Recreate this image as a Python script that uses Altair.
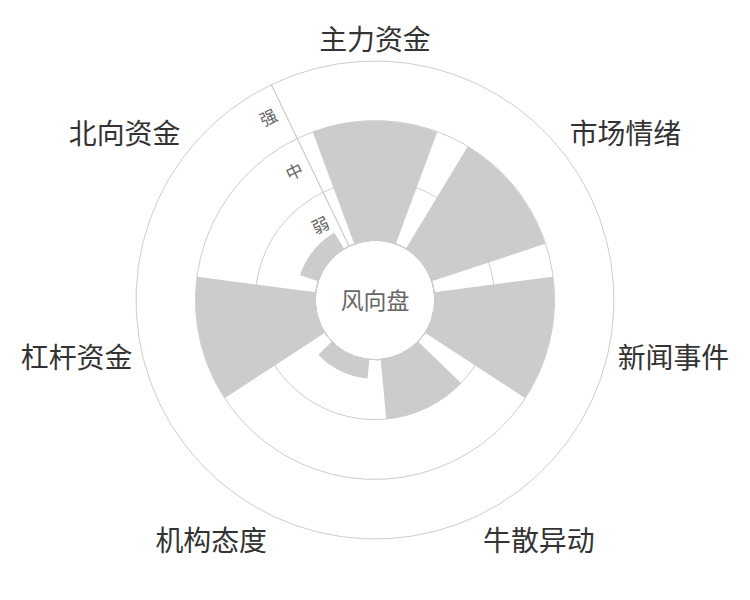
import math
import altair as alt
import pandas as pd

# ---- data ----
categories = ["主力资金", "市场情绪", "新闻事件", "牛散异动", "机构态度", "杠杆资金", "北向资金"]
values = [2.0, 2.0, 2.0, 1.0, 0.32, 2.0, 0.32]
level_labels = ["弱", "中", "强"]
level_pos = [0.5, 1.5, 2.5]
ring_levels = [1, 2, 3]
center_label = "风向盘"

FONT = "Noto Sans CJK SC"
n = len(categories)
step = 2 * math.pi / n

theta_scale = alt.Scale(type="linear", domain=[-0.5, n - 0.5],
                        range=[-step / 2, 2 * math.pi - step / 2])
radius_scale = alt.Scale(type="linear", domain=[-1, 3], range=[0, 240])

bars_df = pd.DataFrame({"cat": categories, "idx": list(range(n)), "v": values, "base": 0.0})
rings_df = pd.DataFrame({"level": ring_levels})
lvl_df = pd.DataFrame({"lab": level_labels, "r": level_pos})
lab_df = pd.DataFrame({"cat": categories, "idx": list(range(n)), "outer": 3.0})
center_df = pd.DataFrame({"lab": [center_label], "r": [-1.0], "t": [0.0], "t0": [-0.5], "t1": [n - 0.5], "edge": [0.0]})

# grid rings
rings = alt.Chart(rings_df).transform_calculate(
    t0="-0.5", t1=f"{n - 0.5}"
).mark_arc(filled=False, stroke="#cccccc", strokeWidth=1).encode(
    theta=alt.Theta("t0:Q", scale=theta_scale, stack=False),
    theta2=alt.Theta2("t1"),
    radius=alt.Radius("level:Q", scale=radius_scale),
)

# bars
bars = alt.Chart(bars_df).transform_calculate(
    t0="datum.idx - 0.395", t1="datum.idx + 0.395"
).mark_arc(color="#cccccc").encode(
    theta=alt.Theta("t0:Q", scale=theta_scale, stack=False),
    theta2=alt.Theta2("t1"),
    radius=alt.Radius("v:Q", scale=radius_scale),
    radius2=alt.Radius2("base"),
)

# radial axis line at the boundary before the first category
axis_line = alt.Chart(rings_df).transform_filter(alt.datum.level == 3).transform_calculate(
    t0="-0.5", base="0"
).mark_arc(filled=False, stroke="#cccccc", strokeWidth=1).encode(
    theta=alt.Theta("t0:Q", scale=theta_scale, stack=False),
    theta2=alt.Theta2("t0"),
    radius=alt.Radius("level:Q", scale=radius_scale),
    radius2=alt.Radius2("base:Q"),
)

# center disc
center_disc = alt.Chart(center_df).mark_arc(fill="white", stroke="#cccccc", strokeWidth=1).encode(
    theta=alt.Theta("t0:Q", scale=theta_scale, stack=False),
    theta2=alt.Theta2("t1"),
    radius=alt.Radius("edge:Q", scale=radius_scale),
)

center_text = alt.Chart(center_df).mark_text(
    font=FONT, fontSize=23, color="#666666", baseline="middle", align="center", dy=2
).encode(
    theta=alt.Theta("t:Q", scale=theta_scale, stack=False),
    radius=alt.Radius("r:Q", scale=radius_scale),
    text="lab:N",
)

lvl_text = alt.Chart(lvl_df).transform_calculate(t0="-0.5").mark_text(
    font=FONT, fontSize=17, color="#666666", baseline="middle", align="center",
    angle=360 - 180 / n, dx=-17
).encode(
    theta=alt.Theta("t0:Q", scale=theta_scale, stack=False),
    radius=alt.Radius("r:Q", scale=radius_scale),
    text="lab:N",
)

label_style = {
    "主力资金": ("center", "bottom"),
    "市场情绪": ("left", "bottom"),
    "新闻事件": ("left", "middle"),
    "牛散异动": ("left", "top"),
    "机构态度": ("right", "top"),
    "杠杆资金": ("right", "middle"),
    "北向资金": ("right", "bottom"),
}

label_layers = []
for c in categories:
    a, b = label_style[c]
    label_layers.append(
        alt.Chart(lab_df).transform_filter(alt.datum.cat == c).mark_text(
            font=FONT, fontSize=28, color="#333333", align=a, baseline=b,
            radiusOffset=10, dy=5
        ).encode(
            theta=alt.Theta("idx:Q", scale=theta_scale, stack=False),
            radius=alt.Radius("outer:Q", scale=radius_scale),
            text="cat:N",
        )
    )

chart = alt.layer(rings, bars, axis_line, center_disc, center_text, lvl_text, *label_layers).properties(
    width=737, height=584, padding=0
).configure_view(strokeWidth=0)

chart.save("out.html", embed_options={"renderer": "svg", "actions": False})
